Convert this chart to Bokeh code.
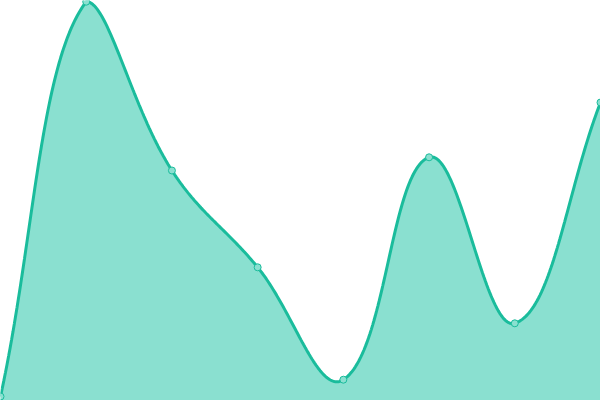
import numpy as np
from bokeh.plotting import figure
from bokeh.embed import file_html
from bokeh.resources import INLINE

# data
categories = ["1", "2", "3", "4", "5", "6", "7", "8"]
values = [1, 99.7, 57.5, 33.3, 5.2, 60.8, 19.3, 74.5]

W, H = 600, 400
Y_MAX = 100.0
n = len(values)
xs = np.arange(n, dtype=float)
ys = np.array(values, dtype=float)

# Chart.js style spline (tension 0.4) computed in pixel-proportional space
sx = W / (n - 1)
sy = H / Y_MAX
px = xs * sx
py = ys * sy
t = 0.4
cp_prev = np.zeros((n, 2))
cp_next = np.zeros((n, 2))
for i in range(n):
    pr = np.array([px[max(i - 1, 0)], py[max(i - 1, 0)]])
    cu = np.array([px[i], py[i]])
    nx = np.array([px[min(i + 1, n - 1)], py[min(i + 1, n - 1)]])
    d01 = np.hypot(*(cu - pr))
    d12 = np.hypot(*(nx - cu))
    tot = d01 + d12
    s01 = d01 / tot if tot else 0.0
    s12 = d12 / tot if tot else 0.0
    fa, fb = t * s01, t * s12
    cp_prev[i] = cu - fa * (nx - pr)
    cp_next[i] = cu + fb * (nx - pr)
# cap control points into chart area
cp_prev[:, 1] = np.clip(cp_prev[:, 1], 0, H)
cp_next[:, 1] = np.clip(cp_next[:, 1], 0, H)
cp_prev[:, 0] = np.clip(cp_prev[:, 0], 0, W)
cp_next[:, 0] = np.clip(cp_next[:, 0], 0, W)

tt = np.linspace(0, 1, 60)
cx, cy = [], []
for i in range(n - 1):
    p0 = np.array([px[i], py[i]])
    p1 = cp_next[i]
    p2 = cp_prev[i + 1]
    p3 = np.array([px[i + 1], py[i + 1]])
    b = ((1 - tt) ** 3)[:, None] * p0 + (3 * (1 - tt) ** 2 * tt)[:, None] * p1 \
        + (3 * (1 - tt) * tt ** 2)[:, None] * p2 + (tt ** 3)[:, None] * p3
    if i > 0:
        b = b[1:]
    cx.extend(b[:, 0] / sx)
    cy.extend(b[:, 1] / sy)
cx = np.array(cx)
cy = np.clip(np.array(cy), 0, Y_MAX)

p = figure(width=W, height=H, output_backend="svg", toolbar_location=None,
           x_range=(0, n - 1), y_range=(0, Y_MAX), min_border=0,
           margin=(0, 0, 0, 0))
p.axis.visible = False
p.grid.visible = False
p.outline_line_color = None
p.background_fill_color = "white"
p.border_fill_color = "white"

p.varea(x=cx, y1=0, y2=cy, fill_color="#8AE0D0", fill_alpha=1.0)
p.line(x=cx, y=cy, line_color="#1ABC9C", line_width=3)
p.scatter(x=xs, y=ys, size=7, marker="circle", fill_color="#8AE0D0",
          line_color="#1ABC9C", line_width=1)

open("out.html", "w").write(file_html(p, INLINE))
